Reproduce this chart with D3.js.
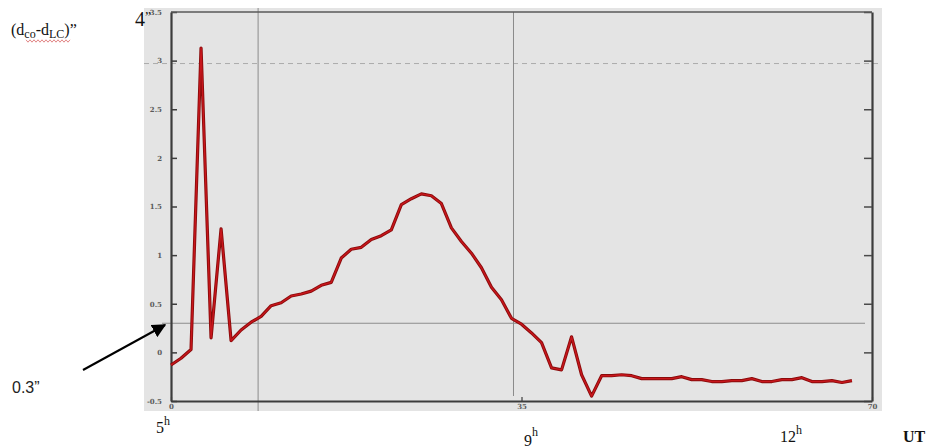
<!DOCTYPE html>
<html>
<head>
<meta charset="utf-8">
<script src="https://cdn.jsdelivr.net/npm/d3@7"></script>
<style>
  html, body { margin: 0; padding: 0; background: #ffffff; }
  svg { display: block; }
</style>
</head>
<body>
<svg id="chart" width="933" height="448"></svg>
<script>
// Hour-step index (0 = 5h UT) and the measured offset in arc seconds
const steps = [
  0, 1, 2, 3, 4, 5, 6, 7, 8, 9,
  10, 11, 12, 13, 14, 15, 16, 17, 18, 19,
  20, 21, 22, 23, 24, 25, 26, 27, 28, 29,
  30, 31, 32, 33, 34, 35, 36, 37, 38, 39,
  40, 41, 42, 43, 44, 45, 46, 47, 48, 49,
  50, 51, 52, 53, 54, 55, 56, 57, 58, 59,
  60, 61, 62, 63, 64, 65, 66, 67, 68
];
const offsets = [
  -0.13, -0.06, 0.03, 3.13, 0.15, 1.27, 0.12, 0.23, 0.31, 0.37,
  0.48, 0.51, 0.58, 0.60, 0.63, 0.69, 0.72, 0.97, 1.06, 1.08,
  1.16, 1.20, 1.26, 1.52, 1.58, 1.63, 1.61, 1.53, 1.28, 1.14,
  1.02, 0.87, 0.67, 0.54, 0.35, 0.29, 0.20, 0.10, -0.16, -0.18,
  0.16, -0.23, -0.45, -0.24, -0.24, -0.23, -0.24, -0.27, -0.27, -0.27,
  -0.27, -0.25, -0.28, -0.28, -0.30, -0.30, -0.29, -0.29, -0.27, -0.30,
  -0.30, -0.28, -0.28, -0.26, -0.30, -0.30, -0.29, -0.31, -0.29
];
const yTicks = [-0.5, 0, 0.5, 1, 1.5, 2, 2.5, 3, 3.5];
const xTicks = [0, 35, 70];
const thresholdValue = 0.3;      // solid reference level
const dashedValue = 2.97;        // dashed reference level
const markerSteps = [8.7, 34.2]; // vertical markers

const svg = d3.select("#chart");
const x = d3.scaleLinear().domain([0, 70]).range([171, 872]);
const y = d3.scaleLinear().domain([-0.5, 3.5]).range([401, 12]);

// plot panel background
svg.append("rect")
  .attr("x", 144).attr("y", 8)
  .attr("width", 738).attr("height", 403)
  .attr("fill", "#e4e4e4");

// dashed level
svg.append("line")
  .attr("x1", 144).attr("x2", 882)
  .attr("y1", y(dashedValue)).attr("y2", y(dashedValue))
  .attr("stroke", "#ababab").attr("stroke-width", 1)
  .attr("stroke-dasharray", "5,4");

// vertical markers
svg.append("line")
  .attr("x1", x(markerSteps[0])).attr("x2", x(markerSteps[0]))
  .attr("y1", 8).attr("y2", 411)
  .attr("stroke", "#9a9a9a").attr("stroke-width", 1.2);
svg.append("line")
  .attr("x1", x(markerSteps[1])).attr("x2", x(markerSteps[1]))
  .attr("y1", 12).attr("y2", 396)
  .attr("stroke", "#8a8a8a").attr("stroke-width", 1);

// 0.3" level
svg.append("line")
  .attr("x1", 162).attr("x2", 865)
  .attr("y1", y(thresholdValue)).attr("y2", y(thresholdValue))
  .attr("stroke", "#8c8c8c").attr("stroke-width", 1.1);

// axes
const tickFont = g => g.selectAll("text")
  .attr("font-family", "'DejaVu Serif', serif")
  .attr("font-size", 7).attr("font-weight", "bold")
  .attr("fill", "#5a5a5a");

const left = svg.append("g").attr("transform", `translate(${x(0)},0)`)
  .call(d3.axisLeft(y).tickValues(yTicks).tickSizeInner(-6).tickSizeOuter(0)
    .tickPadding(9).tickFormat(d => String(d)));
left.call(tickFont);
left.select(".domain").attr("stroke", "#3c3c3c").attr("stroke-width", 2.2);
left.selectAll(".tick line").attr("stroke", "#3c3c3c").attr("stroke-width", 1.5);

const right = svg.append("g").attr("transform", `translate(${x(70)},0)`)
  .call(d3.axisRight(y).tickValues(yTicks).tickSizeInner(-8).tickSizeOuter(0)
    .tickFormat(""));
right.select(".domain").attr("stroke", "#3c3c3c").attr("stroke-width", 2.2);
right.selectAll(".tick line").attr("stroke", "#4a4a4a").attr("stroke-width", 1.5);

const bottom = svg.append("g").attr("transform", `translate(0,${y(-0.5)})`)
  .call(d3.axisBottom(x).tickValues(xTicks).tickSizeInner(-4).tickSizeOuter(0)
    .tickPadding(3).tickFormat(d => String(d)));
bottom.call(tickFont);
bottom.select(".domain").attr("stroke", "#3c3c3c").attr("stroke-width", 2.2);
bottom.selectAll(".tick line").attr("stroke", "#3c3c3c").attr("stroke-width", 1.2);

// top border
svg.append("line")
  .attr("x1", x(0)).attr("x2", x(70))
  .attr("y1", y(3.5)).attr("y2", y(3.5))
  .attr("stroke", "#5a5a5a").attr("stroke-width", 1.6);

// data trace
const pts = steps.map((s, i) => [s, offsets[i]]);
const line = d3.line().x(d => x(d[0])).y(d => y(d[1]));
svg.append("path").datum(pts).attr("d", line)
  .attr("fill", "none").attr("stroke", "#8a0b0b")
  .attr("stroke-width", 3.2).attr("stroke-linejoin", "round");
svg.append("path").datum(pts).attr("d", line)
  .attr("fill", "none").attr("stroke", "#c8161c")
  .attr("stroke-width", 1.4).attr("stroke-linejoin", "round");

// annotations
const serif = "'Liberation Serif', 'Times New Roman', serif";

const ylab = svg.append("text")
  .attr("x", 11).attr("y", 35)
  .attr("font-family", serif).attr("font-size", 16).attr("fill", "#111");
ylab.append("tspan").text("(d");
ylab.append("tspan").attr("font-size", 12).attr("dy", 3).text("co");
ylab.append("tspan").attr("dy", -3).text("-d");
ylab.append("tspan").attr("font-size", 12).attr("dy", 3).text("LC");
ylab.append("tspan").attr("dy", -3).text(")”");

// spell-check squiggle under the subscripted part
const wave = d3.range(26, 72, 2).map((px, i) => [px, 41 + (i % 2 ? 1.2 : -1.2)]);
svg.append("path").attr("d", d3.line()(wave))
  .attr("fill", "none").attr("stroke", "#d04040").attr("stroke-width", 0.8)
  .attr("opacity", 0.8);

const four = svg.append("text")
  .attr("x", 135).attr("y", 26)
  .attr("font-family", serif).attr("font-size", 20).attr("fill", "#111");
four.append("tspan").text("4");
four.append("tspan").attr("font-size", 14).attr("dy", -4).text("”");

svg.append("text")
  .attr("x", 12).attr("y", 393)
  .attr("font-family", "'Liberation Sans', Arial, sans-serif")
  .attr("font-size", 16).attr("fill", "#222")
  .text("0.3”");

// arrow pointing at the 0.3" level
svg.append("defs").append("marker")
  .attr("id", "head").attr("viewBox", "0 0 10 10")
  .attr("refX", 9).attr("refY", 5)
  .attr("markerWidth", 7).attr("markerHeight", 7)
  .attr("orient", "auto")
  .append("path").attr("d", "M0,0 L10,5 L0,10 Z").attr("fill", "#000");
svg.append("line")
  .attr("x1", 83).attr("y1", 370)
  .attr("x2", 165).attr("y2", 325)
  .attr("stroke", "#000").attr("stroke-width", 2)
  .attr("marker-end", "url(#head)");

// hour labels
function hour(px, py, num, hdy) {
  const t = svg.append("text").attr("x", px).attr("y", py)
    .attr("font-family", serif).attr("font-size", 16).attr("fill", "#111");
  t.append("tspan").text(num);
  t.append("tspan").attr("font-size", 12).attr("dy", hdy).text("h");
}
hour(156, 433, "5", -8);
hour(524, 446, "9", -10);
hour(780, 442, "12", -8);

svg.append("text")
  .attr("x", 903).attr("y", 442)
  .attr("font-family", serif).attr("font-size", 16)
  .attr("font-weight", "bold").attr("fill", "#111")
  .text("UT");
</script>
</body>
</html>
